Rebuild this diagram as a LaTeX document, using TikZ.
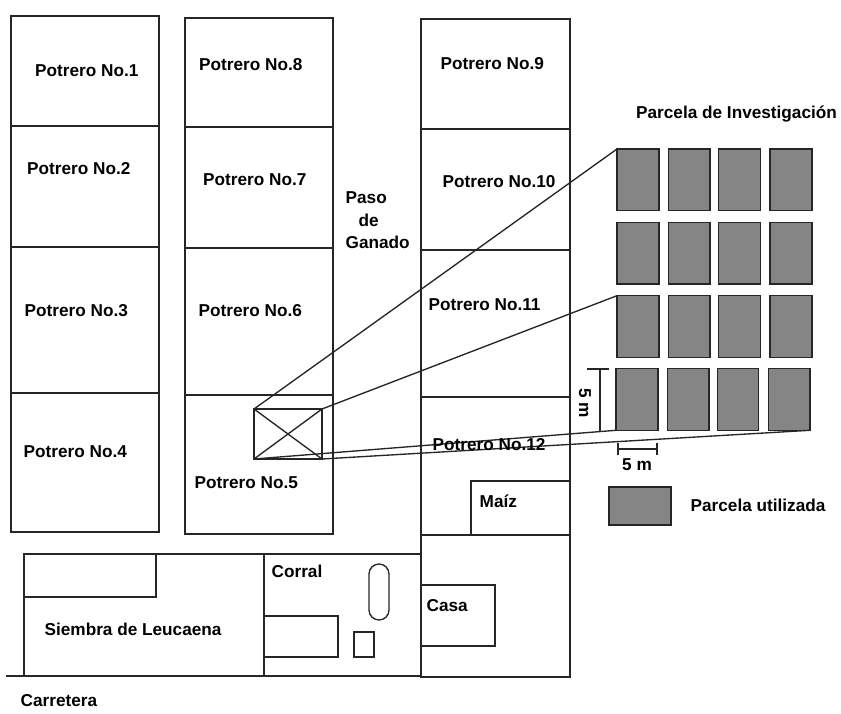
\documentclass[tikz,border=0pt]{standalone}
\usepackage{fontspec}
\setmainfont{Liberation Sans}
\usetikzlibrary{shapes.misc}
\definecolor{ink}{HTML}{262626}
\definecolor{plot}{HTML}{858585}
\tikzset{
  x=1pt,y=-1pt,
  every path/.style={line width=1.35pt,color=ink},
  areabox/.style={draw=ink,line width=1.35pt,inner sep=0pt,outer sep=0pt},
  plotbox/.style={areabox,fill=plot},
  lab/.style={font=\fontsize{17.2}{20}\selectfont\bfseries,text=black,inner sep=0pt,anchor=west},
  clab/.style={lab,anchor=center},
}
% name, x1, y1, x2, y2, style
\newcommand{\areaat}[6]{%
  \pgfmathsetmacro{\bw}{#4-#2}\pgfmathsetmacro{\bh}{#5-#3}%
  \pgfmathsetmacro{\bx}{(#2+#4)/2}\pgfmathsetmacro{\by}{(#3+#5)/2}%
  \node[#6,minimum width=\bw pt,minimum height=\bh pt] (#1) at (\bx,\by) {};}
\begin{document}
\begin{tikzpicture}
\useasboundingbox (0,0) rectangle (841,714);
% column 1
\areaat{c1a}{11}{16}{159}{126}{areabox}
\areaat{c1b}{11}{126}{159}{247}{areabox}
\areaat{c1c}{11}{247}{159}{393}{areabox}
\areaat{c1d}{11}{393}{159}{532}{areabox}
% column 2
\areaat{c2a}{185}{18}{333}{127}{areabox}
\areaat{c2b}{185}{127}{333}{248}{areabox}
\areaat{c2c}{185}{248}{333}{395}{areabox}
\areaat{c2d}{185}{395}{333}{534}{areabox}
% column 3
\areaat{c3a}{421}{19}{570}{129}{areabox}
\areaat{c3b}{421}{129}{570}{250}{areabox}
\areaat{c3c}{421}{250}{570}{397}{areabox}
\areaat{c3d}{421}{397}{570}{535}{areabox}
\areaat{c3e}{421}{535}{570}{677}{areabox}
\areaat{maiz}{471}{481}{570}{535}{areabox}
% lower strip
\areaat{leu}{24}{554}{264}{676}{areabox}
\areaat{cor}{264}{554}{421}{676}{areabox}
\areaat{leub}{24}{554}{156}{597}{areabox}
\areaat{corb}{264}{616}{338}{657}{areabox}
\areaat{cors}{354}{632}{374}{657}{areabox}
\areaat{casa}{421}{585}{495}{646}{areabox}
\node[areabox,rounded rectangle,rotate=90,minimum width=56pt,minimum height=20pt] (oval) at (379,592) {};
\coordinate (roadw) at (6,676);
\draw (roadw) -- (leu.south west);
% research site in Potrero 5
\areaat{site}{254}{409}{322}{459}{areabox}
\draw (site.north west) -- (site.south east) (site.south west) -- (site.north east);
% plots
\areaat{p11}{617}{149}{659}{210.5}{plotbox}
\areaat{p12}{668.7}{149}{710}{210.5}{plotbox}
\areaat{p13}{718.7}{149}{760.7}{210.5}{plotbox}
\areaat{p14}{770}{149}{812}{210.5}{plotbox}
\areaat{p21}{617}{222.7}{659}{284}{plotbox}
\areaat{p22}{668.7}{222.7}{710}{284}{plotbox}
\areaat{p23}{718.7}{222.7}{760.7}{284}{plotbox}
\areaat{p24}{770}{222.7}{812}{284}{plotbox}
\areaat{p31}{617}{295.7}{659}{357.3}{plotbox}
\areaat{p32}{668.7}{295.7}{710}{357.3}{plotbox}
\areaat{p33}{718.7}{295.7}{760.7}{357.3}{plotbox}
\areaat{p34}{770}{295.7}{812}{357.3}{plotbox}
\areaat{p41}{616}{368.7}{658}{430.3}{plotbox}
\areaat{p42}{667.3}{368.7}{709}{430.3}{plotbox}
\areaat{p43}{717.3}{368.7}{758.7}{430.3}{plotbox}
\areaat{p44}{768.7}{368.7}{810}{430.3}{plotbox}
\areaat{leg}{609}{487}{671}{525}{plotbox}
% zoom lines
\draw (site.north west) -- (p11.north west);
\draw (site.north east) -- (p31.north west);
\draw (site.south west) -- (p41.south west);
\draw (site.south east) -- (p44.south east);
% dimensions
\coordinate (vt) at (600,369); \coordinate (vb) at (600,431);
\coordinate (vtl) at (587,369); \coordinate (vtr) at (609,369);
\draw (vt) -- (vb) (vtl) -- (vtr);
\coordinate (hl) at (618,449); \coordinate (hr) at (657,449);
\coordinate (hlt) at (618,443); \coordinate (hlb) at (618,455);
\coordinate (hrt) at (657,443); \coordinate (hrb) at (657,455);
\draw (hl) -- (hr) (hlt) -- (hlb) (hrt) -- (hrb);
% labels
\node[lab] (l1) at (34.5,71) {Potrero No.1};
\node[lab] (l2) at (26.5,169) {Potrero No.2};
\node[lab] (l3) at (24,311) {Potrero No.3};
\node[lab] (l4) at (23,452) {Potrero No.4};
\node[lab] (l5) at (194,483) {Potrero No.5};
\node[lab] (l6) at (198,311) {Potrero No.6};
\node[lab] (l7) at (202.5,180) {Potrero No.7};
\node[lab] (l8) at (198.5,65) {Potrero No.8};
\node[lab] (l9) at (440,64) {Potrero No.9};
\node[lab] (l10) at (442,182) {Potrero No.10};
\node[lab] (l11) at (428,305) {Potrero No.11};
\node[lab] (l12) at (432,445) {Potrero No.12};
\node[lab] (pa) at (345,198) {Paso};
\node[lab] (de) at (358,220) {de};
\node[lab] (ga) at (345,242) {Ganado};
\node[lab] (pi) at (635.5,114) {Parcela de Investigación};
\node[lab] (pu) at (690,505) {Parcela utilizada};
\node[lab] (ma) at (479,501) {Maíz};
\node[lab] (co) at (271,571) {Corral};
\node[lab] (ca) at (426,606) {Casa};
\node[lab] (si) at (44,629) {Siembra de Leucaena};
\node[lab] (ct) at (20,701) {Carretera};
\node[clab,rotate=-90] (m1) at (585,403) {5 m};
\node[clab] (m2) at (637,465) {5 m};
\end{tikzpicture}
\end{document}
